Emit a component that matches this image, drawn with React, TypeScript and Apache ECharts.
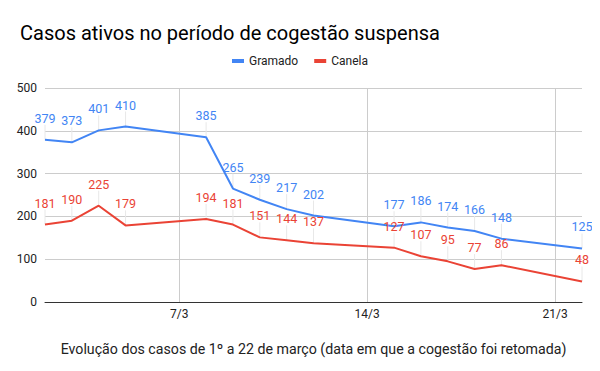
import React, { useEffect, useRef } from "react";
import * as echarts from "echarts";

const days = [2, 3, 4, 5, 8, 9, 10, 11, 12, 15, 16, 17, 18, 19, 22];
const gramado = [379, 373, 401, 410, 385, 265, 239, 217, 202, 177, 186, 174, 166, 148, 125];
const canela = [181, 190, 225, 179, 194, 181, 151, 144, 137, 127, 107, 95, 77, 86, 48];
const xTicks = [7, 14, 21];
const title = "Casos ativos no período de cogestão suspensa";
const xName = "Evolução dos casos de 1º a 22 de março (data em que a cogestão foi retomada)";

const BLUE = "#4285F4";
const RED = "#EA4335";
const FONT = "Roboto, Arial, sans-serif";

export default function App() {
  const ref = useRef<HTMLDivElement>(null);
  useEffect(() => {
    if (!ref.current) return;
    const chart = echarts.init(ref.current, null, { renderer: "svg" });
    const mk = (vals: number[]) => days.map((d, i) => [d, vals[i]]);
    const leader = (name: string, vals: number[]) => ({
      type: "custom",
      name: name + "_lead",
      silent: true,
      z: 1,
      data: mk(vals),
      renderItem: (params: any, api: any) => {
        const p = api.coord([api.value(0), api.value(1)]);
        return {
          type: "line",
          shape: { x1: p[0], y1: p[1], x2: p[0], y2: p[1] - 15 },
          style: { stroke: "#e8e8e8", lineWidth: 1 },
        };
      },
    });
    const lineSeries = (name: string, vals: number[], color: string) => ({
      type: "line",
      name,
      data: mk(vals),
      color,
      z: 3,
      symbol: "circle",
      symbolSize: 0.01,
      showSymbol: true,
      itemStyle: { color },
      lineStyle: { width: 2, color },
      labelLayout: { hideOverlap: false },
      label: {
        show: true,
        position: "top",
        distance: 15,
        color,
        fontSize: 12.5,
        fontFamily: FONT,
        formatter: (p: any) => String(p.value[1]),
      },
    });
    chart.setOption({
      animation: false,
      backgroundColor: "#fff",
      title: {
        text: title,
        left: 15,
        top: 18,
        textStyle: { fontSize: 20, fontWeight: "normal", color: "#000", fontFamily: FONT },
      },
      legend: {
        data: [
          { name: "Gramado", itemStyle: { color: BLUE, opacity: 1 } },
          { name: "Canela", itemStyle: { color: RED, opacity: 1 } },
        ],
        top: 50,
        left: "center",
        icon: "rect",
        itemWidth: 12,
        itemHeight: 4,
        itemGap: 16,
        textStyle: { fontSize: 12, color: "#222", fontFamily: FONT },
      },
      grid: { left: 45, right: 18, top: 88, bottom: 69, containLabel: false },
      xAxis: {
        type: "value",
        min: 2,
        max: 22,
        name: xName,
        nameLocation: "middle",
        nameGap: 40,
        nameTextStyle: { fontSize: 14.2, color: "#222", fontFamily: FONT },
        axisLine: { show: true, lineStyle: { color: "#333", width: 1 } },
        axisTick: { show: false, customValues: xTicks },
        axisLabel: {
          customValues: xTicks,
          formatter: (v: number) => v + "/3",
          fontSize: 12,
          color: "#222",
          fontFamily: FONT,
          margin: 6,
        },
        splitLine: { show: false },
      },
      yAxis: {
        type: "value",
        min: 0,
        max: 500,
        interval: 100,
        axisLine: { show: false },
        axisTick: { show: false },
        axisLabel: { fontSize: 12, color: "#222", fontFamily: FONT, margin: 8 },
        splitLine: { lineStyle: { color: "#cccccc", width: 1 } },
      },
      series: [
        leader("Gramado", gramado),
        leader("Canela", canela),
        {
          ...lineSeries("Gramado", gramado, BLUE),
          markLine: {
            silent: true,
            symbol: "none",
            label: { show: false },
            lineStyle: { color: "#cccccc", width: 1, type: "solid" },
            data: xTicks.map((t) => ({ xAxis: t })),
            z: 0,
          },
        },
        lineSeries("Canela", canela, RED),
      ],
    });
    return () => chart.dispose();
  }, []);
  return <div ref={ref} style={{ width: 600, height: 371, margin: -8 }} />;
}
